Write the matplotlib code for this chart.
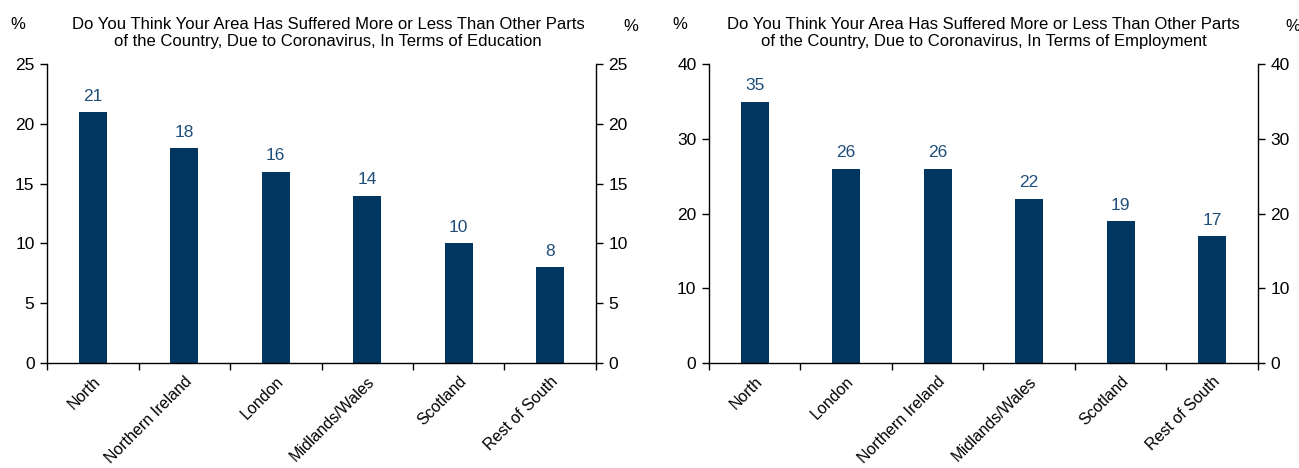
import numpy as np
import matplotlib
matplotlib.use("Agg")
import matplotlib.pyplot as plt

plt.rcParams['font.family'] = ['Liberation Sans', 'DejaVu Sans']

# data
edu_regions = ['North', 'Northern Ireland', 'London', 'Midlands/Wales', 'Scotland', 'Rest of South']
edu_values = [21, 18, 16, 14, 10, 8]
edu_ticks = [0, 5, 10, 15, 20, 25]

emp_regions = ['North', 'London', 'Northern Ireland', 'Midlands/Wales', 'Scotland', 'Rest of South']
emp_values = [35, 26, 26, 22, 19, 17]
emp_ticks = [0, 10, 20, 30, 40]

edu_title = ('Do You Think Your Area Has Suffered More or Less Than Other Parts\n'
             'of the Country, Due to Coronavirus, In Terms of Education')
emp_title = ('Do You Think Your Area Has Suffered More or Less Than Other Parts\n'
             'of the Country, Due to Coronavirus, In Terms of Employment')

BAR = '#003660'
LABEL = '#1f4e79'


def draw_panel(ax, regions, values, ticks, title, title_x=0.5):
    x = np.arange(len(regions))
    ax.bar(x, values, width=0.31, color=BAR)
    for xi, v in zip(x, values):
        ax.annotate(str(v), (xi, v), xytext=(0, 6), textcoords='offset points',
                    ha='center', va='bottom', fontsize=12.5, color=LABEL)

    ax.set_xlim(-0.5, len(regions) - 0.5)
    ax.set_ylim(ticks[0], ticks[-1])
    ax.set_yticks(ticks)

    ax.set_xticks(x)
    ax.set_xticklabels(regions, rotation=45, ha='right', va='top',
                       rotation_mode='anchor', fontsize=11.5)
    ax.set_xticks(np.arange(len(regions) + 1) - 0.5, minor=True)
    ax.tick_params(axis='x', which='major', length=0, pad=8)
    ax.tick_params(axis='x', which='minor', length=5, width=1, direction='out')
    ax.tick_params(axis='y', left=True, right=True, labelleft=True, labelright=True,
                   length=5, width=1, direction='out', labelsize=12.5, pad=4)

    ax.spines['top'].set_visible(False)
    for side in ['left', 'right', 'bottom']:
        ax.spines[side].set_linewidth(1)

    ax.set_title(title, fontsize=12, pad=13, linespacing=1.2, x=title_x)
    ax.text(-0.053, 1.135, '%', transform=ax.transAxes, ha='center', va='center', fontsize=12)
    ax.text(1.063, 1.125, '%', transform=ax.transAxes, ha='center', va='center', fontsize=12)


fig = plt.figure(figsize=(12.99, 4.68), dpi=100)
ax1 = fig.add_axes([0.0362, 0.2248, 0.4226, 0.6378])
ax2 = fig.add_axes([0.5458, 0.2248, 0.4226, 0.6378])

draw_panel(ax1, edu_regions, edu_values, edu_ticks, edu_title, title_x=0.512)
draw_panel(ax2, emp_regions, emp_values, emp_ticks, emp_title)

fig.savefig('out.png', dpi=100)
